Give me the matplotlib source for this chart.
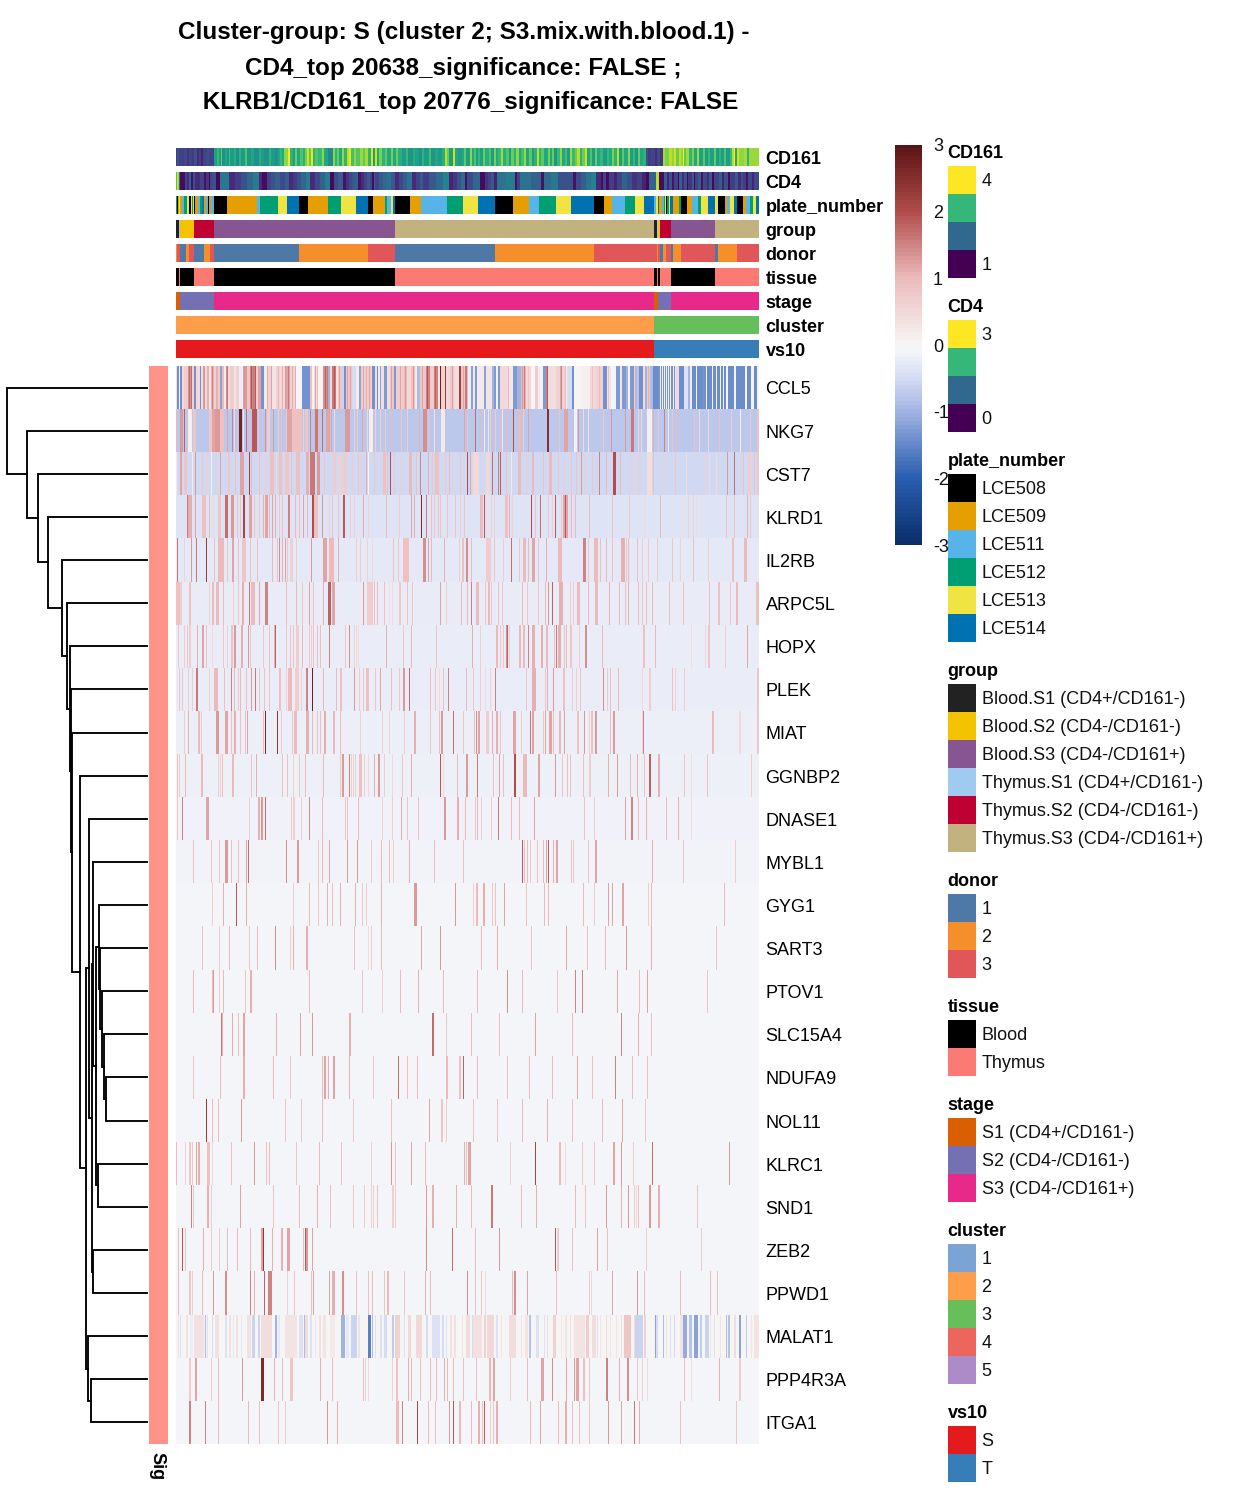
import numpy as np
import matplotlib
matplotlib.use('Agg')
import matplotlib.pyplot as plt
from matplotlib.colors import LinearSegmentedColormap, ListedColormap
from matplotlib.patches import Rectangle

plt.rcParams['font.family'] = ['Liberation Sans', 'DejaVu Sans']

W, H = 1248, 1497
N_COL = 582

title_lines = ["Cluster-group: S (cluster 2; S3.mix.with.blood.1) -",
               "CD4_top 20638_significance: FALSE ;",
               " KLRB1/CD161_top 20776_significance: FALSE"]

genes = ["CCL5", "NKG7", "CST7", "KLRD1", "IL2RB", "ARPC5L", "HOPX", "PLEK", "MIAT",
         "GGNBP2", "DNASE1", "MYBL1", "GYG1", "SART3", "PTOV1", "SLC15A4", "NDUFA9",
         "NOL11", "KLRC1", "SND1", "ZEB2", "PPWD1", "MALAT1", "PPP4R3A", "ITGA1"]

# resting level of each gene, cells not listed below keep this value
baseline = [-1.45, -0.75, -0.55, -0.38, -0.3, -0.24, -0.22, -0.22, -0.18, -0.17, -0.14, -0.12,
            -0.1, -0.1, -0.1, -0.1, -0.1, -0.1, -0.1, -0.1, -0.1, -0.1, -0.03, -0.1, -0.1]

# CCL5 is dense, kept as (number of cells, value) runs
ccl5_runs = [(1,.4),(2,-1.4),(1,0),(2,-1.4),(2,.5),(4,.7),(4,1.4),(2,.6),(2,-1.4),(4,.5),(1,-1.4),(2,.4),
    (2,1.3),(2,.4),(2,1.1),(2,.3),(3,1.1),(2,.6),(2,1.1),(2,.7),(2,-1.2),(2,1.0),(2,.2),(2,1.4),(2,.4),
    (4,.7),(2,.3),(3,.6),(4,-.2),(4,1.3),(3,.8),(6,1.5),(2,.7),(3,1.2),(3,-1.4),(4,.2),(4,.6),(4,.3),
    (4,.6),(6,.5),(4,1.2),(6,.6),(6,-.1),(8,-1.4),(2,.9),(2,0),(4,.4),(5,0),(5,1.4),(2,-1.0),(2,.5),
    (4,1.6),(2,.3),(4,.8),(2,-.6),(2,-1.4),(6,.8),(4,-.5),(3,.2),(2,-1.2),(11,.7),(3,-1.4),(2,.4),
    (1,-1.4),(2,.2),(1,-1.2),(3,.4),(3,-1.3),(3,.4),(4,.8),(2,-1.3),(8,.7),(3,1.0),(4,.5),(4,.9),(2,.2),
    (3,-.9),(6,.8),(4,1.5),(4,.7),(4,1.5),(2,.3),(1,2.8),(4,.6),(1,2.3),(4,.5),(4,.8),(5,.4),(2,2.2),
    (4,.8),(2,1.6),(3,-.2),
    (2,-1.2),(2,.2),(2,-1.3),(7,.2),(2,-1.2),(6,.3),(2,-1.0),(2,-1.3),(2,-.1),(2,-1.3),(8,.5),(1,1.0),
    (4,.2),(4,-1.3),(4,-1.0),(5,1.0),(5,.5),(4,0),(3,.7),(5,.1),(3,-1.3),(2,1.5),(8,.4),(4,.6),(2,1.2),
    (4,.6),(1,.1),(5,-.5),(2,-1.4),(7,0),(9,.1),(6,.5),(7,.6),(4,-1.4),(4,.3),(5,-.1),(4,-1.3),(2,.3),
    (4,-1.3),(2,-1),(2,0),(4,-1.3),(2,.6),(3,-.8),(4,-1.4),(2,.4),(2,-1.0),(3,.7),(3,-.9),(5,-1.45),
    (2,-1.4),(1,0),(1,-1.4),(1,0),(1,-1.4),(1,0),(1,-1.4),(1,0),(1,-1.4),(1,0),(1,-1.4),(1,0),(2,-1.4),
    (1,0),(1,-1.4),(1,.3),(3,.5),(5,-1.45),(4,-.4),(2,-1),(2,-.2),(4,-1.45),(1,0),(5,-1.45),(4,-1.4),
    (1,0),(5,-1.45),(1,0),(3,-1.45),(1,0),(3,-1.45),(1,0),(2,-1.45),(1,0),(2,-1.45),(2,0),(6,-1.45),
    (2,0),(4,-1.45),(5,-1.45),(2,0),(4,-1.45),(3,0),(3,-1.45),(2,0)]

# thin dark lines that sit on top of the CCL5 runs
ccl5_hits = [(13,1.7),(15,1.7),(36,1.5),(51,1.6),(75,1.9),(77,1.6),(79,1.9),(91,1.1),(95,1.2),(102,1.0),(106,1.1),(109,1.3),(112,1.6),
    (116,1.1),(119,1.1),(139,1.2),(141,1.0),(149,1.8),(151,1.6),(158,1.9),(163,1.2),(171,1.2),(174,1.2),(187,1.2),(190,1.1),(193,1.2),
    (215,1.2),(224,1.2),(229,1.3),(237,1.3),(246,1.2),(251,1.9),(259,1.8),(276,1.2),(287,1.2),(291,1.0),(345,1.3),(347,1.6),(351,.8),
    (370,1.9),(384,1.5),(388,1.0),(415,.9),(422,1.0),(431,.9),(458,1.2),(471,1.1)]

# MALAT1 washes of pink and blue, (first cell, number of cells, value)
malat1_spans = [(2,1,.35),(10,2,.35),(18,10,.35),(39,4,.35),(53,2,.35),(60,2,.35),(71,4,.35),(85,11,.4),
    (109,12,.3),(129,3,.4),(143,2,.35),(147,3,.3),(154,5,.2),(182,2,.35),(219,5,.6),(232,3,.5),(240,6,.5),
    (274,2,.35),(278,2,.35),(286,1,.35),(4,1,-.4),(14,3,-.2),(31,1,-.4),(36,1,-.5),(49,2,-.4),(57,1,-.3),
    (65,1,-.3),(76,3,-.6),(82,2,-.6),(102,2,-.3),(123,4,-.4),(134,2,-.4),(139,1,-.3),(170,3,-.3),
    (175,6,-.6),(199,1,-.4),(204,2,-.4),(208,3,-.5),(216,2,-.7),(228,1,-.4),(250,2,-.5),(256,8,-.4),
    (266,2,-.5),(270,1,-.4),(29,1,-.9),(99,2,-1),(128,1,-.9),(165,4,-1),(196,1,-.9),(192,3,-1.6),
    (290,3,.4),(296,9,.35),(307,2,.6),(310,7,.5),(324,1,.3),(332,7,.4),(344,1,.3),(348,3,.3),(370,1,.4),
    (376,3,.6),(384,1,.3),(388,2,.3),(393,1,.4),(397,11,.3),(409,3,.7),(415,4,.4),(423,1,.3),(429,1,.4),
    (433,1,.3),(439,1,.3),(444,1,.4),(447,7,.8),(457,1,.5),(467,2,.6),(489,1,.3),(503,3,.3),(533,1,.3),
    (537,1,.4),(543,1,.3),(557,2,.4),(574,1,.3),(577,5,.3),(295,1,-.5),(319,2,-.4),(352,2,-.8),
    (359,3,-.4),(367,1,-.4),(420,1,-.4),(458,8,-.6),(478,1,-1.2),(479,2,-.5),(486,1,-.9),(493,1,-.4),
    (497,1,-.5),(506,4,-1.1),(512,3,-.8),(517,4,-1.2),(523,2,-.7),(528,4,-.6),(549,1,-.9),(551,2,-.8),
    (562,2,-1.2),(569,1,-.7)]

# the other genes: (cell, value) or (first cell, value, number of cells)
nkg7_hits = [(0,1.0),(4,1.3,3),(8,1.8),(12,.1,4),(17,.8,3),(33,.8,3),(36,1.2,3),(39,1.3,5),(44,.9,4),(51,1.2),
    (56,1.5),(58,.5),(63,2.7,3),(67,.3),(70,1.7),(74,1.0),(76,1.9,5),(82,.8),(89,1.4),(91,.7,3),(97,1.3),
    (102,.6),(105,.9),(110,.8),(111,1.2,5),(116,.9,5),(121,.9,5),(127,.6),(129,.8,3),(134,1.5),(139,1.6,3),
    (143,1.0),(146,1.7),(150,1.2,4),(155,1.2),(158,.5),(169,1.3,5),(178,.6),(181,.7),(186,1.2),(191,.5),
    (193,.1,4),(199,.6),(204,.7),(209,.7),(215,1.0),(225,.8),(231,.7),(243,1.1),(247,1.4,4),(252,.9),(258,.4),
    (265,.2,4),(288,1.2),(291,.9),(298,1.7),(303,1.0),(307,.2),(311,.3),(313,.7),(318,.7),(323,1.0),(325,.3),
    (330,1.0),(336,2.0),(341,1.0,3),(346,.7),(351,1.2),(370,2.5,2),(382,.8),(387,1.2,4),(397,.1,3),(401,1.3),
    (406,.5),(411,.3),(426,.8),(434,1.3),(448,1.3),(454,1.6,3),(461,.5),(464,.5),(470,.1,5),(476,1.1),(481,.8),
    (487,1.5),(491,.2),(495,.8),(499,1.0),(517,.9),(522,.5),(531,.5),(542,.9),(554,.7),(563,.1),(573,.8),(580,.9,2)]
cst7_hits = [(0,.2),(4,1.2,2),(8,.8,3),(16,.2),(19,1.3),(26,.8),(30,.7),(35,.1),(40,.7),(44,1.2),(52,.8,2),(59,.9),
    (64,1.2,4),(73,2.2),(75,1.0),(83,.9),(87,.6),(91,.6),(94,.9,4),(100,.5),(103,.9,3),(109,.8,4),(115,.9),
    (120,.9,4),(130,1.1,3),(134,1.6,5),(141,1.3,3),(148,.8),(157,.7,3),(162,.6,3),(167,.7,4),(176,.7),(182,.8),
    (185,.7),(190,1.1),(192,-.1),(198,.8),(207,.9,3),(211,1.0),(214,2.0),(218,.8),(225,.7),(233,1.0,3),(240,.9),
    (244,1.5),(252,1.1),(256,.8),(259,.9,4),(269,.8),(273,1.0),(276,.7),(284,.8),(291,2.0),(293,1.2),
    (296,.5,6),(309,.5,4),(315,1.7),(321,1.6),(323,1.9),(329,.9),(334,.2),(341,1.0,3),(349,.7),(355,1.0,2),
    (366,.9),(372,1.0,3),(381,.8),(387,.7),(394,.8),(399,.9),(404,1.3),(407,.7),(415,.8),(422,1.5),(429,1.0),
    (436,2.0,3),(443,1.0),(453,.7),(457,.6),(462,.7),(470,.4,5),(476,.9),(488,.6),(498,.8),(509,.4),(527,.6),
    (532,.5),(539,.5),(550,1.3),(557,1.7),(566,.9),(571,.7,3),(577,.9),(580,.8,2)]
klrd1_hits = [(11,1.6),(12,1.1,4),(19,1.2),(26,.9,4),(33,1.0),(37,.5),(42,.8,3),(49,1.7,3),(55,1.3,3),(61,.9),(64,.8),
    (67,2.1,2),(73,1.2,3),(78,.8),(83,.8),(87,1.1),(89,1.2,3),(93,1.0),(96,1.2),(99,1.1),(103,.8),(106,.9),
    (112,1.5,2),(119,1.0),(123,.9),(127,1.2),(131,1.0),(136,2.0,2),(138,.9,4),(146,1.3),(153,.7),(156,.9),
    (162,.9),(167,1.9,2),(174,.7),(178,.6),(187,1.1),(192,.6),(210,1.0),(223,.7),(235,1.2),(238,1.1),(245,2.6),
    (250,1.6),(255,.9),(258,.8),(262,.8),(264,.9),(271,.9),(279,.8),(284,.7),(288,.8),(303,1.0,3),(307,1.9),
    (309,.5),(314,.6),(317,.7),(328,.9,3),(332,1.1),(335,.6),(354,2.0),(358,.9),(363,1.7),(371,.8),(375,.7),
    (378,1.9),(384,.8),(386,1.2,5),(388,1.9),(394,1.0),(398,1.0),(412,1.0),(435,.9),(452,.8),(467,.5),(483,1.0),
    (506,.4),(511,.6),(516,.6),(519,.5),(549,.9),(557,.8),(570,1.1),(573,.8)]
il2rb_hits = [(1,1.6),(8,.6),(15,1.3),(20,1.6),(30,2.3),(38,.9),(42,1.0,6),(51,.8),(56,1.2,2),(62,.9),(66,.8,4),(74,.9),
    (81,.9),(96,1.0),(101,.9),(103,1.4),(106,1.1),(109,1.2),(111,.8),(114,.6,3),(120,.7),(135,1.3),(147,1.2,4),
    (153,1.0,5),(162,1.1),(180,.7),(184,.7),(191,.6),(196,.5),(217,.9),(222,.8),(227,.9,6),(247,1.4,3),(252,1.2),
    (255,1.0),(268,1.1),(283,.7),(286,.9,2),(290,1.4,2),(294,1.0),(309,.7,5),(317,.8),(326,.7),(334,1.7),(342,.8),
    (346,1.0,3),(351,1.0),(355,1.2,3),(361,.8),(369,1.1),(381,1.0,4),(406,1.5,3),(411,.8),(417,1.0,4),(423,.9),
    (429,1.0),(435,.9),(444,1.1,4),(449,.8),(451,1.0),(460,.9),(465,.7),(471,.7),(480,.7),(495,.8),(503,.6),(516,.9),
    (531,.7),(555,.9,2),(567,1.0,3)]
arpc5l_hits = [(0,.9,4),(4,.7,2),(13,.9,2),(33,.6),(36,1.0,2),(40,1.0,3),(47,1.0),(57,.7),(62,.8),(66,1.1,2),(73,1.6),
    (75,1.0,4),(83,1.2),(89,1.5,3),(110,1.0),(120,1.0),(126,.8),(133,1.2),(137,.9),(147,1.1),(152,1.8,3),(156,1.2,3),
    (187,1.3),(191,.7,6),(198,.9),(201,1.0),(208,.9),(213,.4),(216,.5),(223,.8,2),(231,.9),(236,.8),(264,1.2),(270,.7),
    (285,1.0),(291,1.0),(294,1.5),(299,1.0,3),(308,.8),(311,1.0,2),(314,.8),(321,.9),(325,.8),(345,1.0),(350,.8),
    (361,.8),(368,1.0),(371,1.3),(375,1.8),(382,1.1,4),(393,.7),(396,.7),(400,1.0,3),(411,1.0),(418,1.0,3),(432,1.1),
    (442,1.0),(448,.9),(451,1.1),(461,1.0),(465,.8),(469,.9),(475,1.0),(492,.9),(506,.9),(532,.9),(541,.9,2),(553,.8),
    (559,1.0,2),(579,.9,3)]
hopx_hits = [(2,.8),(8,.7),(11,.8),(13,.7,2),(21,1.1),(26,1.2,2),(30,.9),(36,.5),(47,.8),(51,.7),(55,.9,2),(58,1.3,2),
    (65,1.1,2),(72,1.3),(74,.8),(87,.8),(93,.9),(98,1.1),(99,1.8),(110,.8),(114,.9),(117,.9),(120,.7,3),(126,1.0),
    (133,.8),(135,.7),(137,.9),(141,.9),(144,.9),(153,1.5),(169,.8),(173,1.4),(178,.6),(180,.5),(182,.4),(210,1.1),
    (227,.8),(235,1.0),(260,.8),(295,1.1),(303,.6),(319,1.0,2),(323,.8),(326,.8),(329,1.4),(330,1.8),(332,.7),
    (342,1.0,2),(346,1.0,2),(351,1.5),(355,1.1,3),(364,1.1,2),(369,1.0,2),(377,.9),(379,1.6),(381,1.1,3),(387,.9),
    (389,1.0),(393,.8,2),(402,.7),(408,1.4,2),(425,1.0),(466,.9,2),(478,1.0),(514,.4),(528,.5),(531,.8,2),(548,.7),(570,1.2)]
plek_hits = [(3,.8),(6,.8),(12,.7),(16,.7),(20,1.6,2),(33,.6),(38,1.0,4),(48,.9),(55,1.5),(58,1.0),(62,.8),(64,1.0),(70,.9),
    (75,1.3),(79,1.6),(83,.8),(88,.9),(93,.9),(103,.9,2),(110,.6),(112,1.0,4),(119,.7,4),(125,.7),(130,1.5,2),(136,2.8),
    (147,1.0),(160,1.0),(164,.9,2),(178,1.3),(183,.7),(187,.8),(190,.9,3),(199,.8),(204,1.2),(215,.9),(223,.8),(227,1.3,2),
    (233,1.7),(254,.9),(259,.8),(263,.5),(267,.9),(272,1.5),(290,1.0),(296,.8),(303,.7),(308,.5),(313,.6),(318,1.5),(349,.8),
    (355,1.1,3),(358,1.1),(368,.8),(370,1.1),(376,1.3),(386,.9,2),(395,.7),(399,.7),(403,.9),(426,1.4),(430,.7),(433,.9),
    (441,1.0),(465,.5),(472,.7,2),(495,.9),(498,.6),(507,.7),(580,.8,2)]
miat_hits = [(8,.7),(12,1.1),(22,1.0,2),(25,.7),(40,1.3,3),(49,1.2,3),(55,.9),(58,1.1,2),(64,.9),(69,.9),(71,1.2),(87,1.0),
    (89,2.6),(101,2.4),(105,.7),(116,.8),(118,1.0,3),(130,1.1,3),(136,1.0),(141,.9),(144,.9),(148,1.1,2),(157,1.0,2),(164,1.0),
    (184,.6),(206,.6),(213,.6),(228,.7),(238,1.1,2),(254,.8),(263,.9),(265,1.3,2),(277,1.7),(287,.8),(297,.9),(299,1.4),
    (301,1.2,2),(309,.7,3),(315,1.1),(319,1.1,2),(323,.9),(336,1.2,3),(344,.7),(353,1.6),(355,1.2,2),(366,.8),(368,1.2),
    (372,1.2,3),(376,.9),(382,1.0,2),(387,1.2),(400,.9,2),(407,1.3),(412,.7),(414,.9,2),(418,1.3,2),(433,1.0),(436,1.3,2),
    (465,.6),(466,1.5),(535,1.0,2),(562,.5,2),(580,.8,2)]
ggnbp2_hits = [(1,.8),(3,.7),(9,1.0),(25,1.0,2),(42,.7),(44,.6),(46,.9),(56,1.0,2),(75,.9),(80,1.1),(106,.9),(111,.9),(117,.6),
    (123,.8),(129,1.0),(147,1.0),(164,.8),(166,1.3,2),(173,1.5),(175,.7),(177,.6),(179,.7),(183,.9,3),(188,.6),(192,.5),(198,1.1),
    (202,1.3,2),(208,.7),(216,.5),(226,.8),(235,1.1),(264,1.9),(267,.5),(281,1.0),(290,1.3,2),(300,1.6),(316,.9),(322,1.2),
    (326,.9),(337,2.0,2),(346,1.0,4),(361,1.2,2),(378,1.3),(385,.8),(390,.9),(393,.9),(406,.9),(412,.7,2),(431,1.1),(440,1.3),
    (453,1.0),(460,1.1),(467,.9),(472,1.8,2),(481,1.1,2),(507,.8),(514,.4),(530,.9),(574,.7)]
dnase1_hits = [(1,.8),(6,1.5),(30,1.2,3),(73,.7),(82,1.1,2),(85,1.3,2),(89,1.7),(115,.8),(117,.7,2),(125,.7),(133,1.4),(146,1.0),
    (169,.8),(171,.8),(182,1.0),(206,.6),(216,.7),(225,1.1),(231,.8),(242,.9),(268,1.3,2),(281,1.1,2),(289,1.0),(298,.8),(300,1.0),
    (304,.7),(314,.7),(321,1.6),(334,1.0),(342,1.0),(357,1.2),(407,.9),(417,.7),(448,1.2),(454,1.5,2),(461,.9),(469,1.1),(489,1.0),
    (501,1.1),(514,.4)]
mybl1_hits = [(17,.9),(35,.8),(43,.8),(49,1.3,3),(55,.9),(62,.9),(70,1.2),(72,1.7),(110,1.4),(121,1.3,2),(142,.8),(146,1.0),(153,1.2),
    (171,1.3),(181,1.3),(195,.7),(205,1.0),(213,1.0),(217,.7),(233,1.1),(258,.9),(287,.9),(345,1.9),(347,.9),(350,1.0),(353,.8),(360,.9),
    (366,1.0),(369,1.2),(371,1.8),(376,1.1),(379,1.2,2),(394,.8),(396,.8),(411,.8),(418,1.2,2),(475,1.1),(506,.8),(558,.7)]
gyg1_hits = [(36,.6),(47,1.1),(60,1.9),(70,1.1),(117,.7),(133,1.0),(142,.8),(151,1.1),(156,.9),(164,1.1),(179,1.1),(186,.8),(190,.7),
    (205,1.1),(238,1.3,3),(279,1.3),(296,.6),(299,1.0,2),(306,1.1,2),(315,.8),(318,.9),(327,1.2),(349,.9),(367,1.0),(371,1.0),(406,1.0),
    (417,.7),(431,1.2),(435,1.2),(445,1.2,2),(471,.7),(474,1.0),(547,1.0)]
sart3_hits = [(26,.9),(43,.7),(53,1.0),(73,.8),(81,1.0),(99,1.4),(114,.7),(117,1.1),(130,1.1,2),(178,.9),(192,.5),(195,.7),(205,1.0),
    (245,1.2),(264,1.3),(304,1.0),(320,1.1),(354,.8),(389,1.2),(410,.9),(428,1.0),(449,1.3),(474,1.1),(539,.8)]
ptov1_hits = [(17,1.0),(36,1.0),(37,1.3),(43,.7),(47,1.0),(69,.8),(74,1.1,2),(133,1.0),(186,.8),(206,.6),(224,1.0),(242,1.1),(267,1.0),
    (300,1.0),(330,1.4),(345,1.0),(380,.8),(398,1.5),(405,1.5),(440,1.2),(462,1.0),(470,1.2),(530,.8)]
slc15a4_hits = [(45,1.6),(46,1.1),(56,1.1),(62,.9),(67,1.2,2),(100,1.1),(124,1.2),(136,1.3),(173,1.1,2),(256,1.7,2),(270,.8),(294,1.0),
    (322,.9),(358,1.2),(395,1.0),(444,1.5),(461,1.1),(474,.9)]
ndufa9_hits = [(17,.9),(44,1.0),(67,1.1,2),(97,1.0),(114,.8),(146,1.0),(148,1.2,2),(152,1.1),(157,1.2,2),(173,1.1),(197,.8),(222,1.7),
    (231,.9),(241,1.0),(270,1.0,2),(283,.9,2),(287,1.8),(300,1.0),(330,.9),(352,1.0),(375,1.0),(400,1.2),(415,.9),(438,1.5),(455,1.0),(470,.9)]
nol11_hits = [(30,2.3),(36,1.0),(42,1.0),(65,1.3),(109,.8),(125,.8),(146,1.0),(177,.8),(215,.9),(253,1.2),(265,.8,2),(270,.7),(296,.9),
    (320,.9),(345,1.0),(370,1.1),(395,.9),(425,1.0),(445,1.2),(468,.8)]
klrc1_hits = [(0,1.0),(9,.6),(13,.8,2),(16,.8),(20,1.2),(22,1.1,2),(31,.9,3),(36,.5),(55,.9),(78,1.3),(90,.9),(93,1.0),(120,.8),(143,1.0),
    (165,.9),(195,.6),(215,1.3),(219,.8),(235,1.2),(249,1.0),(288,1.1),(290,.9),(292,1.2,2),(333,.6),(358,2.1),(382,1.0,2),(388,.5),(405,.8),
    (417,.8),(436,1.2,2),(444,1.3),(456,.7),(475,1.7),(552,1.3)]
snd1_hits = [(15,1.5),(17,.8),(31,1.1,2),(35,.7),(64,1.2),(97,.9),(123,1.0),(141,1.1),(154,.9),(177,.8),(188,.7),(195,.6),(197,.7),(201,.9),
    (216,.6,2),(219,.7),(250,1.3),(256,1.1,2),(280,1.1),(294,1.0),(314,1.6,2),(344,1.0),(359,1.1),(398,1.0),(408,.9),(429,1.3),(444,1.1),(451,1.3),
    (457,.7),(459,.5),(461,.9),(472,1.3,2),(481,1.1,2),(520,.9)]
zeb2_hits = [(2,1.0),(6,1.9),(9,.9),(27,1.1),(35,.7),(43,.7),(51,1.0),(61,1.0),(74,1.0),(85,1.2,2),(87,2.4),(96,1.1),(105,1.1,2),(111,1.2,3),
    (127,1.0),(129,1.9),(130,1.3,2),(136,1.2),(250,1.4),(276,1.7),(298,1.0),(322,1.3),(378,1.9),(380,.6),(381,.8),(395,.9),(420,1.2),(430,.9),(469,.7),(524,.7)]
ppwd1_hits = [(2,1.0),(13,.8,2),(16,.7),(26,1.0),(37,1.3),(49,1.4,2),(74,1.5),(78,1.1),(88,1.8),(92,1.5,4),(111,.6),(118,.9),(135,.9),(137,1.2),
    (153,1.2),(156,1.1,3),(166,1.4,2),(180,.9),(192,.9),(196,1.0),(208,.8),(211,1.0,2),(228,.8),(249,1.1),(254,1.0),(291,1.4),(298,.9),(304,.8),
    (308,.5),(335,1.0),(337,1.4,2),(350,1.2),(379,.9),(412,.7),(414,.5),(435,1.2),(460,1.3),(467,1.0),(503,1.0),(533,1.0),(540,.9)]
ppp4r3a_hits = [(13,.7,2),(19,1.2,2),(35,.7),(42,1.0),(66,1.3),(85,2.6,3),(98,1.1),(106,1.0),(114,.8,3),(144,1.1),(156,1.0),(187,.9),(189,.7),(192,.5),
    (216,.6),(220,.9,2),(232,1.1),(235,1.0),(244,.9),(254,1.0),(260,1.0),(268,1.1),(271,1.0),(277,1.0),(287,.9),(299,.9),(312,1.0,2),(316,1.2,2),(333,.7),
    (350,1.0),(364,1.2,3),(375,1.4),(389,1.2),(397,1.3),(399,1.2,3),(406,.9,2),(412,.8),(429,1.5,2),(442,1.1),(450,1.4,2),(460,.8),(465,.6),(470,.5),
    (507,.9),(514,.4),(542,1.1),(562,.7,2)]
itga1_hits = [(13,1.5,2),(29,1.5),(42,1.0),(72,1.0),(83,.9),(102,.9),(109,.7),(151,1.3),(161,1.1),(220,1.0,3),(226,1.5),(241,2.1),(252,1.0),(259,.9),(273,1.3),
    (277,1.9),(283,1.0,2),(294,1.0),(301,1.1,2),(305,.9),(307,1.8),(313,.7),(316,.8),(319,1.1,2),(353,1.0),(363,1.2),(381,1.0),(388,1.1,2),(395,.9),(402,.9),
    (412,.8),(431,1.3),(444,1.2),(457,1.6),(462,1.1),(503,.9),(559,.8)]

gene_hits = {"CCL5": ccl5_hits, "NKG7": nkg7_hits, "CST7": cst7_hits, "KLRD1": klrd1_hits, "IL2RB": il2rb_hits, "ARPC5L": arpc5l_hits,
             "HOPX": hopx_hits, "PLEK": plek_hits, "MIAT": miat_hits, "GGNBP2": ggnbp2_hits, "DNASE1": dnase1_hits,
             "MYBL1": mybl1_hits, "GYG1": gyg1_hits, "SART3": sart3_hits, "PTOV1": ptov1_hits, "SLC15A4": slc15a4_hits,
             "NDUFA9": ndufa9_hits, "NOL11": nol11_hits, "KLRC1": klrc1_hits, "SND1": snd1_hits, "ZEB2": zeb2_hits,
             "PPWD1": ppwd1_hits, "PPP4R3A": ppp4r3a_hits, "ITGA1": itga1_hits}

# annotation tracks, (value or level index, number of cells)
cd161_runs = [(1,.12),(2,.2),(5,.14),(3,.17),(2,.1),(3,.16),(2,.12),(3,.2),(2,.08),(2,.14),(2,.05),(4,.16),(2,.2),(5,.15),
    (3,.52),(2,.62),(2,.5),(1,.72),(3,.45),(2,.55),(2,.48),(1,.65),(4,.5),(2,.58),(3,.45),(2,.6),(4,.5),(2,.68),(4,.48),(3,.55),
    (5,.45),(2,.58),(3,.5),(5,.46),(2,.6),(4,.5),(3,.45),(2,.55),(2,.62),(2,.55),(4,.78),(2,.96),(3,.6),(2,.5),(2,.72),(3,.55),
    (3,.68),(2,.58),(2,.75),(2,.88),(2,.7),(2,.93),(2,.6),(3,.68),(4,.62),(2,.78),(4,.55),(5,.42),(2,.78),(2,.6),(2,.72),(3,.55),
    (2,.8),(3,.6),(2,.85),(2,.92),(3,.65),(2,.78),(4,.68),(3,.8),(2,.7),(3,.82),(3,.6),(2,.9),(2,.5),(2,.88),(2,.55),(3,.75),(3,.6),
    (2,.7),(4,.55),(2,.75),(3,.55),(2,.72),(4,.58),(4,.5),(2,.62),(5,.48),(2,.58),(4,.52),(3,.45),(2,.6),(5,.5),(2,.65),(4,.48),
    (3,.55),(4,.5),(3,.58),(2,.85),(2,.72),(4,.5),(2,.88),(3,.55),(4,.5),
    (2,.55),(2,.7),(3,.5),(2,.78),(2,.55),(2,.68),(2,.5),(2,.62),(3,.52),(2,.72),(4,.58),(2,.68),(3,.5),(2,.75),(2,.55),(3,.62),
    (2,.82),(3,.58),(3,.68),(2,.5),(3,.72),(2,.6),(3,.78),(2,.55),(3,.65),(2,.8),(3,.55),(3,.7),(2,.5),(3,.6),(2,.85),(2,.6),(3,.7),
    (4,.55),(2,.75),(2,.55),(2,.72),(3,.48),(3,.62),(2,.78),(3,.55),(2,.65),(3,.5),(2,.8),(3,.62),(2,.72),(3,.85),(2,.6),(3,.72),
    (2,.88),(3,.55),(2,.68),(3,.5),(2,.72),(3,.55),(3,.62),(4,.5),(2,.62),(3,.55),(2,.75),(3,.6),(2,.85),(3,.5),(2,.7),(4,.55),
    (2,.78),(3,.5),(2,.62),(3,.48),(2,.72),(3,.55),(3,.6),
    (2,.2),(3,.12),(4,.16),(2,.08),(3,.18),(3,.1),
    (2,.82),(4,.75),(3,.85),(2,.78),(2,.88),(3,.72),(2,.86),(2,.78),(1,.98),(2,.7),(3,.82),(3,.6),(2,.75),(3,.55),(2,.8),(4,.52),
    (2,.7),(3,.5),(2,.62),(4,.52),(2,.72),(3,.5),(2,.6),(3,.52),(2,.68),(4,.5),(2,.62),(2,.85),(1,.97),(2,.55),(2,.88),(5,.78),
    (3,.82),(2,.6),(2,.8)]
cd4_runs = [(1,.72),(1,.95),(1,.85),(1,.35),(5,.03),(2,.2),(2,.12),(2,.3),(2,.05),(2,.25),(5,.12),(4,.2),(2,.05),(3,.15),(1,.02),(2,.2),(4,.25),
    (4,.02),(9,.4),(6,.12),(6,.18),(6,.25),(6,.33),(6,.42),(3,.12),(5,.03),(4,.2),(4,.26),(5,.32),(5,.22),(4,.3),(4,.12),(4,.18),(4,.25),
    (5,.33),(4,.42),(5,.12),(5,.22),(5,.32),(5,.42),(4,.02),(4,.22),(5,.3),(3,.05),(3,.15),(3,.22),(3,.28),(3,.32),(3,.05),(3,.12),(3,.2),
    (3,.28),(2,.2),(2,.03),(1,.3),(4,.2),(4,.28),(4,.35),(4,.38),(4,.28),(4,.12),(4,.22),(4,.3),(5,.38),(4,.12),(4,.2),(3,.28),(6,.18),
    (7,.28),(7,.35),(6,.45),(4,.1),(4,.16),(4,.25),(4,.35),(2,.05),(5,.22),
    (7,.33),(5,.03),(3,.15),(3,.2),(3,.28),(3,.1),(9,.38),(9,.42),(2,.05),(3,.2),(11,.38),(10,.32),(3,.05),(7,.35),(7,.4),(15,.25),
    (3,.05),(5,.22),(5,.3),(5,.38),(5,.45),(5,.12),(2,.03),(3,.2),(3,.03),(5,.18),(3,.1),(5,.2),(5,.32),(5,.25),(5,.15),(5,.2),(4,.1),
    (3,.02),(7,.32),(3,.9),(1,.02),(4,.03),(3,.3),(2,.1),(3,.25),(2,.05),(4,.2),(1,.02),(3,.3),(2,.12),(3,.25),(1,.02),(4,.15),(2,.3),
    (1,.02),(3,.2),(3,.28),(2,.05),(4,.22),(2,.12),(3,.28),(2,.02),(5,.2),(3,.3),(2,.1),(4,.25),(2,.03),(5,.18),(3,.28),(3,.12),(2,.25),
    (3,.18),(2,.05),(4,.22),(2,.1),(5,.22),(1,.02),(1,.15)]

plate_levels = ["LCE508", "LCE509", "LCE511", "LCE512", "LCE513", "LCE514"]
plate_colors = ["#000000", "#E69F00", "#56B4E9", "#009E73", "#F0E442", "#0072B2"]
plate_runs = [(3,1),(0,1),(1,1),(4,1),(1,2),(2,2),(3,3),(4,2),(0,2),(4,1),(3,1),(4,1),(0,1),(1,3),(2,2),(3,2),(5,2),(1,2),(2,2),(0,1),(1,1),(2,1),(1,1),(2,2),
    (0,13),(1,30),(2,3),(3,18),(4,9),(5,12),(0,9),(1,20),(3,13),(4,15),(5,12),(0,5),(1,12),(3,2),(2,4),(4,2),(5,2),(0,15),(1,11),(2,26),(3,16),(4,7),
    (4,7),(5,17),(0,18),(1,16),(2,10),(3,17),(4,15),(5,23),(0,10),(1,8),(2,13),(3,10),(4,9),(5,10),(2,2),(4,2),(5,1),(1,3),(2,2),(3,1),(4,1),(0,1),(3,2),(4,1),
    (5,3),(1,6),(3,2),(0,6),(1,5),(2,6),(3,3),(4,7),(5,7),(4,3),(0,7),(1,2),(2,3),(4,4),(5,3),(0,6),(1,3),(2,4),(3,3),(4,3),(5,3)]

group_levels = ["Blood.S1 (CD4+/CD161-)", "Blood.S2 (CD4-/CD161-)", "Blood.S3 (CD4-/CD161+)",
                "Thymus.S1 (CD4+/CD161-)", "Thymus.S2 (CD4-/CD161-)", "Thymus.S3 (CD4-/CD161+)"]
group_colors = ["#222222", "#F3C300", "#875692", "#A1CAF1", "#BE0032", "#C2B280"]
group_runs = [(0,3),(3,1),(1,14),(4,20),(2,181),(5,75),(5,183),(0,3),(3,1),(1,2),(4,11),(2,44),(5,44)]

donor_levels = ["1", "2", "3"]
donor_colors = ["#4E79A7", "#F58F2C", "#E15759"]
donor_runs = [(1,1),(2,3),(0,6),(1,3),(2,5),(0,10),(1,6),(2,4),(0,85),(1,69),(2,27),(0,75),
    (0,24),(1,99),(2,63),(1,1),(2,2),(0,3),(1,3),(2,5),(0,2),(1,8),(2,34),(0,3),(1,19),(2,22)]

tissue_levels = ["Blood", "Thymus"]
tissue_colors = ["#000000", "#FB7A73"]
tissue_runs = [(0,3),(1,1),(0,14),(1,20),(0,181),(1,75),(1,183),(0,3),(1,1),(0,2),(1,11),(0,44),(1,44)]

stage_levels = ["S1 (CD4+/CD161-)", "S2 (CD4-/CD161-)", "S3 (CD4-/CD161+)"]
stage_colors = ["#D95F02", "#7570B3", "#E7298A"]
stage_runs = [(0,4),(1,34),(2,256),(2,183),(0,4),(1,13),(2,88)]

cluster_levels = ["1", "2", "3", "4", "5"]
cluster_colors = ["#7BA3D4", "#FF9E4A", "#67BF5C", "#ED665D", "#AD8BC9"]
cluster_runs = [(1,477),(2,105)]

vs10_levels = ["S", "T"]
vs10_colors = ["#E41A1C", "#377EB8"]
vs10_runs = [(0,477),(1,105)]

viridis_boxes = ["#FDE725", "#35B779", "#31688E", "#440154"]

# dendrogram: children and height of each merge, leaves are 0-24, merges go on from 25
merge_children = [(16,17),(15,25),(14,26),(13,27),(12,28),(18,19),(29,30),(11,31),(20,21),(32,33),(10,34),(23,24),(22,36),
                  (35,37),(9,38),(8,39),(7,40),(6,41),(5,42),(4,43),(3,44),(2,45),(1,46),(0,47)]
merge_heights = [41.3,43.5,45.3,47,48.3,49,51.5,53.7,54,55.3,58.5,56,59.5,61.5,67,75,76,77.5,80.5,85,99,109,120,140]

heat_cmap = LinearSegmentedColormap.from_list("heat", [(0, "#0A2F6B"), (1/6, "#2B5FB0"), (2/6, "#A3B4E3"), (5/12, "#D5DCF4"),
    (2.9/6, "#F4F5FA"), (.5, "#F7F5F5"), (4/6, "#EDBBBB"), (5/6, "#B24D4D"), (1, "#5B1414")], N=512)


def px_axes(x0, y0, x1, y1):
    ax = fig.add_axes([x0 / W, 1 - y1 / H, (x1 - x0) / W, (y1 - y0) / H])
    ax.set_axis_off()
    return ax


def track_from_runs(runs, first_is_count=False):
    # two spellings of a run: (count, value) and (level, count)
    if first_is_count:
        counts = [r[0] for r in runs]
        values = [r[1] for r in runs]
    else:
        values = [r[0] for r in runs]
        counts = [r[1] for r in runs]
    out = np.repeat(np.array(values, dtype=float), counts)[:N_COL]
    return np.pad(out, (0, N_COL - len(out)), mode='edge')


fig = plt.figure(figsize=(W / 100, H / 100), dpi=100)

# heatmap cells
cells = np.tile(np.array(baseline)[:, None], (1, N_COL))
cells[0] = track_from_runs(ccl5_runs, first_is_count=True)
row = genes.index("MALAT1")
for first, n, val in malat1_spans:
    cells[row, first:first + n] = val
for gene, hits in gene_hits.items():
    row = genes.index(gene)
    for col, val, *n in hits:
        cells[row, col:col + (n[0] if n else 1)] = val

ax_heat = px_axes(176, 366, 758, 1444)
ax_heat.imshow(cells, cmap=heat_cmap, vmin=-3, vmax=3, aspect='auto', interpolation='nearest')

# annotation tracks
tracks = [("CD161", track_from_runs(cd161_runs, True), plt.cm.viridis, -0.05, 0.95),
          ("CD4", track_from_runs(cd4_runs, True), plt.cm.viridis, 0, 1),
          ("plate_number", track_from_runs(plate_runs), ListedColormap(plate_colors), 0, 5),
          ("group", track_from_runs(group_runs), ListedColormap(group_colors), 0, 5),
          ("donor", track_from_runs(donor_runs), ListedColormap(donor_colors), 0, 2),
          ("tissue", track_from_runs(tissue_runs), ListedColormap(tissue_colors), 0, 1),
          ("stage", track_from_runs(stage_runs), ListedColormap(stage_colors), 0, 2),
          ("cluster", track_from_runs(cluster_runs), ListedColormap(cluster_colors), 0, 4),
          ("vs10", track_from_runs(vs10_runs), ListedColormap(vs10_colors), 0, 1)]
for i, (name, vals, cmap, vmin, vmax) in enumerate(tracks):
    y0 = 148 + 24 * i
    ax = px_axes(176, y0, 758, y0 + 18)
    ax.imshow(vals[None, :], cmap=cmap, vmin=vmin, vmax=vmax, aspect='auto', interpolation='nearest')

# colorbar
ax_cb = px_axes(895, 145, 922, 545)
ax_cb.imshow(np.linspace(3, -3, 100)[:, None], cmap=heat_cmap, vmin=-3, vmax=3, aspect='auto', interpolation='nearest')

# dendrogram
ax_den = px_axes(7, 366, 147, 1444)
ax_den.set_xlim(140, 0)
ax_den.set_ylim(len(genes), 0)
node_y = {i: i + 0.5 for i in range(len(genes))}
node_h = {i: 0 for i in range(len(genes))}
for k, ((a, b), h) in enumerate(zip(merge_children, merge_heights)):
    ax_den.plot([node_h[a], h, h, node_h[b]], [node_y[a], node_y[a], node_y[b], node_y[b]],
                color='black', lw=1.35, solid_joinstyle='miter', clip_on=False)
    node_y[len(genes) + k] = (node_y[a] + node_y[b]) / 2
    node_h[len(genes) + k] = h

# everything else sits on a page axes in pixel units
page = fig.add_axes([0, 0, 1, 1], zorder=5)
page.set_xlim(0, W)
page.set_ylim(H, 0)
page.set_axis_off()
page.patch.set_alpha(0)

for x, y, line in zip([463.5, 463.5, 467], [33, 68.5, 102.5], title_lines):
    page.text(x, y, line, ha='center', va='center', fontsize=17.5, fontweight='bold')

for i, (name, *_rest) in enumerate(tracks):
    page.text(765.5, 159 + 24 * i, name, ha='left', va='center', fontsize=13, fontweight='bold')
for i, gene in enumerate(genes):
    page.text(765.5, 390 + 43.12 * i, gene, ha='left', va='center', fontsize=13)

page.add_patch(Rectangle((149, 366), 19, 1078, facecolor='#FF9289', edgecolor='none'))
page.text(156.5, 1466, "Sig", rotation=-90, ha='center', va='center', fontsize=13, fontweight='bold')

for tick in range(-3, 4):
    page.text(933, 347 - tick * 66.67, str(tick), ha='left', va='center', fontsize=13, color='#111111')


def draw_legend(title, title_y, labels, colors):
    page.text(947.5, title_y + 2, title, ha='left', va='center', fontsize=13, fontweight='bold')
    top = title_y + 14
    for j, (lab, col) in enumerate(zip(labels, colors)):
        page.add_patch(Rectangle((948, top + 28 * j), 28, 28, facecolor=col, edgecolor='none'))
        page.text(981.5, top + 28 * j + 16, lab, ha='left', va='center', fontsize=13, color='#111111')


draw_legend("CD161", 152, ["4", "", "", "1"], viridis_boxes)
draw_legend("CD4", 306, ["3", "", "", "0"], viridis_boxes)
draw_legend("plate_number", 460, plate_levels, plate_colors)
draw_legend("group", 670, group_levels, group_colors)
draw_legend("donor", 880, donor_levels, donor_colors)
draw_legend("tissue", 1006, tissue_levels, tissue_colors)
draw_legend("stage", 1104, stage_levels, stage_colors)
draw_legend("cluster", 1230, cluster_levels, cluster_colors)
draw_legend("vs10", 1412, vs10_levels, vs10_colors)

fig.savefig("out.png", dpi=100)
